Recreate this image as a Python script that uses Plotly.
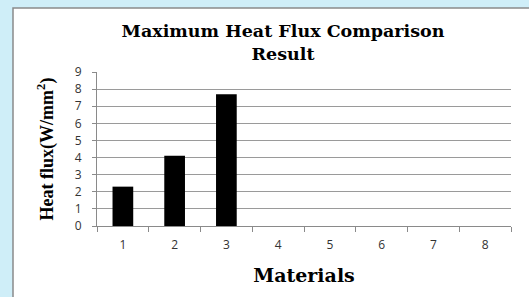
import plotly.graph_objects as go

categories = ["1", "2", "3", "4", "5", "6", "7", "8"]
heat_flux = [2.3, 4.1, 7.7, None, None, None, None, None]
y_ticks = [0, 1, 2, 3, 4, 5, 6, 7, 8, 9]

W, H = 529, 297
L, R, T, B = 97, 18, 72, 71
pw, ph = W - L - R, H - T - B

fig = go.Figure()
fig.add_trace(go.Bar(x=categories, y=heat_flux, marker=dict(color="black", line=dict(width=0)),
                     width=0.4, showlegend=False))

# white chart frame over light blue page
fig.add_shape(type="rect", xref="paper", yref="paper", layer="below",
              x0=(13 - L) / pw, x1=(W + 20 - L) / pw,
              y0=(H - B - (H + 20)) / ph, y1=(H - B - 8) / ph,
              fillcolor="white", line=dict(color="#8a8a8a", width=1.5))

serif = "DejaVu Serif, serif"
serif2 = "Liberation Serif, Times New Roman, serif"
sans = "Open Sans, Liberation Sans, sans-serif"

fig.update_layout(
    width=W, height=H,
    margin=dict(l=L, r=R, t=T, b=B),
    paper_bgcolor="#cfeef8",
    plot_bgcolor="white",
    title=dict(text="<b>Maximum Heat Flux Comparison<br>Result</b>",
               font=dict(family=serif, size=17.5, color="black"),
               x=283 / W, xanchor="center", xref="container",
               y=1 - 37 / H, yanchor="middle", yref="container"),
    xaxis=dict(type="category", categoryorder="array", categoryarray=categories,
               tickson="boundaries", ticks="outside", ticklen=5, tickcolor="#8a8a8a",
               showline=True, linecolor="#8a8a8a", linewidth=1,
               showgrid=False, ticklabelstandoff=8,
               tickfont=dict(family=sans, size=12, color="#333333"),
               title=dict(text="<b>Materials</b>", font=dict(family=serif, size=19, color="black"),
                          standoff=16)),
    yaxis=dict(range=[0, 9], tickvals=y_ticks, ticks="outside", ticklen=4, tickcolor="#8a8a8a",
               showline=True, linecolor="#8a8a8a", linewidth=1,
               showgrid=True, gridcolor="#9a9a9a", gridwidth=1,
               zeroline=False, ticklabelstandoff=8,
               tickfont=dict(family=sans, size=12, color="#333333"),
               title=dict(text="<b>Heat flux(W/mm<sup>2</sup>)</b>",
                          font=dict(family=serif2, size=18, color="black"), standoff=16)),
    bargap=0.6,
)

fig.write_html("out.html", config={"displayModeBar": False},
               post_script="document.body.style.margin='0px';")
